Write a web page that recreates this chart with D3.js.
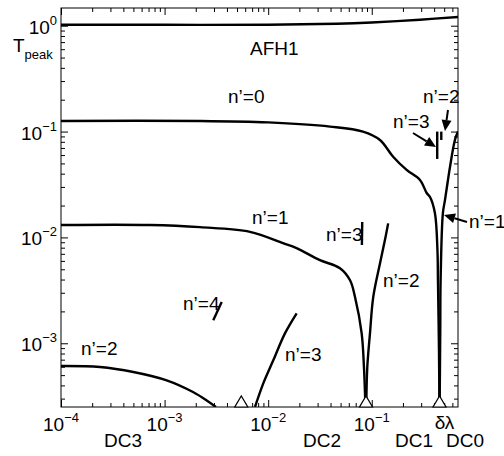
<!DOCTYPE html>
<html>
<head>
<meta charset="utf-8">
<script src="https://cdn.jsdelivr.net/npm/d3@7"></script>
<style>
  body { margin: 0; background: #fff; }
  svg { display: block; }
  text { font-family: "Liberation Sans", Arial, sans-serif; fill: #000; }
</style>
</head>
<body>
<div id="chart"></div>
<script>
// curves as [delta lambda, T_peak]
const afh1 = [[1e-4, 1.02], [1e-3, 1.02], [0.01, 1.02], [0.046, 1.044], [0.1, 1.074], [0.292, 1.14], [0.68, 1.21]];
const n0   = [[1e-4, 0.126], [0.0022, 0.126], [0.01, 0.122], [0.0395, 0.1114], [0.0822, 0.0999], [0.120, 0.0833],
              [0.160, 0.0582], [0.217, 0.0434], [0.292, 0.0349], [0.339, 0.0263], [0.365, 0.0241], [0.407, 0.0170],
              [0.4306, 0.00758], [0.4355, 0.00394], [0.4455, 8.6e-4], [0.450, 2.5e-4]];
const n1   = [[1e-4, 0.0131], [7.2e-4, 0.0131], [0.0022, 0.0125], [0.00667, 0.0113], [0.0139, 0.00883],
              [0.0188, 0.00792], [0.0316, 0.0061], [0.0493, 0.00512], [0.0617, 0.00394], [0.0689, 0.00274],
              [0.0799, 0.00124], [0.0841, 5.9e-4], [0.0869, 2.5e-4]];
const n1r  = [[0.452, 2.5e-4], [0.4585, 0.00133], [0.462, 0.00394], [0.486, 0.0170], [0.509, 0.0225],
              [0.544, 0.0349], [0.569, 0.0463], [0.635, 0.0833], [0.68, 0.0999]];
const n2a  = [[1e-4, 6.09e-4], [2.38e-4, 5.96e-4], [4.99e-4, 5.35e-4], [1.047e-3, 4.46e-4], [1.88e-3, 3.46e-4],
              [2.55e-3, 2.88e-4], [3.13e-3, 2.5e-4]];
const n2b  = [[0.0885, 2.5e-4], [0.0905, 5.9e-4], [0.0961, 0.00124], [0.1034, 0.00274], [0.120, 0.00567],
              [0.134, 0.00943], [0.144, 0.01357]];
const n2c  = [[0.469, 0.0999], [0.469, 0.0833]];
const n3a  = [[0.00746, 2.5e-4], [0.00897, 4.18e-4], [0.0112, 6.9e-4], [0.01452, 0.00124], [0.01884, 0.00192]];
const n3b  = [[0.0809, 0.0140], [0.0803, 0.00846]];
const n3c  = [[0.4285, 0.0999], [0.4285, 0.0551]];
const n4   = [[0.00295, 0.00165], [0.00356, 0.00246]];

const xTicks   = [1e-4, 1e-3, 1e-2, 1e-1];
const xTickExp = ["\u22124", "\u22123", "\u22122", "\u22121"];
const yTicks   = [1, 1e-1, 1e-2, 1e-3];
const yTickExp = ["0", "\u22121", "\u22122", "\u22123"];
const dcMarks  = [0.0055, 0.088, 0.451];

const width = 504, height = 456;
const L = 61, R = 458, T = 8, B = 407;

const x = d3.scaleLog().domain([1e-4, 0.68]).range([L, R]);
const y = d3.scaleLog().domain([2.5e-4, 1.47]).range([B, T]);

function minors(dom) {
  const out = [];
  for (let k = -5; k <= 1; k++)
    for (let m = 2; m <= 9; m++) {
      const v = m * Math.pow(10, k);
      if (v > dom[0] && v < dom[1]) out.push(v);
    }
  return out;
}

const svg = d3.select("#chart").append("svg")
  .attr("width", width).attr("height", height);

svg.append("clipPath").attr("id", "plot")
  .append("rect").attr("x", L).attr("y", T).attr("width", R - L).attr("height", B - T);

// ticks (inward) on all four sides
const tickSets = [
  [d3.axisBottom(x), `translate(0,${B})`, xTicks, minors(x.domain())],
  [d3.axisTop(x), `translate(0,${T})`, xTicks, minors(x.domain())],
  [d3.axisLeft(y), `translate(${L},0)`, yTicks, minors(y.domain())],
  [d3.axisRight(y), `translate(${R},0)`, yTicks, minors(y.domain())]
];
tickSets.forEach(([ax, tr, major, minor]) => {
  [[major, 7], [minor, 4]].forEach(([vals, len]) => {
    const g = svg.append("g").attr("transform", tr)
      .call(ax.tickValues(vals).tickSize(-len).tickFormat(""));
    g.select(".domain").remove();
    g.selectAll("line").attr("stroke", "#000").attr("stroke-width", 1);
  });
});

svg.append("rect").attr("x", L).attr("y", T).attr("width", R - L).attr("height", B - T)
  .attr("fill", "none").attr("stroke", "#000").attr("stroke-width", 1);

// curves
const line = d3.line().x(d => x(d[0])).y(d => y(d[1])).curve(d3.curveCatmullRom.alpha(0.5));
const curves = [afh1, n0, n1, n1r, n2a, n2b, n2c, n3a, n3b, n3c, n4];
svg.append("g").attr("clip-path", "url(#plot)")
  .selectAll("path").data(curves).join("path")
  .attr("d", line)
  .attr("fill", "none").attr("stroke", "#000").attr("stroke-width", 2.4)
  .attr("stroke-linejoin", "round");

// open triangles on the axis
svg.selectAll("path.mark").data(dcMarks).join("path")
  .attr("class", "mark")
  .attr("d", d => `M${x(d) - 6.5},${B} L${x(d) + 6.5},${B} L${x(d)},${B - 11} Z`)
  .attr("fill", "#fff").attr("stroke", "#000").attr("stroke-width", 1.2);

// tick labels
const fs = 19, sup = 13;
xTicks.forEach((v, i) => {
  const t = svg.append("text").attr("x", x(v)).attr("y", 431)
    .attr("text-anchor", "middle").attr("font-size", fs);
  t.append("tspan").text("10");
  t.append("tspan").attr("font-size", sup).attr("dy", -9).text(xTickExp[i]);
});
yTicks.forEach((v, i) => {
  const t = svg.append("text").attr("x", L - 4).attr("y", y(v) + 8)
    .attr("text-anchor", "end").attr("font-size", fs);
  t.append("tspan").text("10");
  t.append("tspan").attr("font-size", sup).attr("dy", -9).text(yTickExp[i]);
});
svg.append("text").attr("x", x(dcMarks[2]) + 5).attr("y", 429)
  .attr("text-anchor", "middle").attr("font-size", fs).text("\u03b4\u03bb");

// axis title
const yt = svg.append("text").attr("x", 13).attr("y", 52).attr("font-size", fs);
yt.append("tspan").text("T");
yt.append("tspan").attr("font-size", sup).attr("dy", 7).text("peak");

// annotations
const labels = [
  ["DC3", 104, 447], ["DC2", 303, 447], ["DC1", 395, 447], ["DC0", 446, 447],
  ["AFH1", 250, 55],
  ["n\u2019=0", 228, 103], ["n\u2019=1", 252, 224], ["n\u2019=3", 326, 241],
  ["n\u2019=2", 383, 287], ["n\u2019=4", 183, 310], ["n\u2019=3", 285, 361],
  ["n\u2019=2", 81, 355], ["n\u2019=2", 423, 103], ["n\u2019=3", 393, 128],
  ["n\u2019=1", 469, 228]
];
svg.selectAll("text.lab").data(labels).join("text")
  .attr("class", "lab")
  .attr("x", d => d[1]).attr("y", d => d[2])
  .attr("font-size", fs).text(d => d[0]);

// arrows
const arrows = [
  [[467, 222], [444, 215]],
  [[448, 110], [445, 131]],
  [[413, 133], [436, 147]]
];
arrows.forEach(([a, b]) => {
  const dx = b[0] - a[0], dy = b[1] - a[1], len = Math.hypot(dx, dy);
  const ux = dx / len, uy = dy / len, hl = 11, hw = 5;
  const bx = b[0] - ux * hl, by = b[1] - uy * hl;
  svg.append("line").attr("x1", a[0]).attr("y1", a[1]).attr("x2", bx).attr("y2", by)
    .attr("stroke", "#000").attr("stroke-width", 2);
  svg.append("path")
    .attr("d", `M${b[0]},${b[1]} L${bx - uy * hw},${by + ux * hw} L${bx + uy * hw},${by - ux * hw} Z`)
    .attr("fill", "#000");
});
</script>
</body>
</html>
